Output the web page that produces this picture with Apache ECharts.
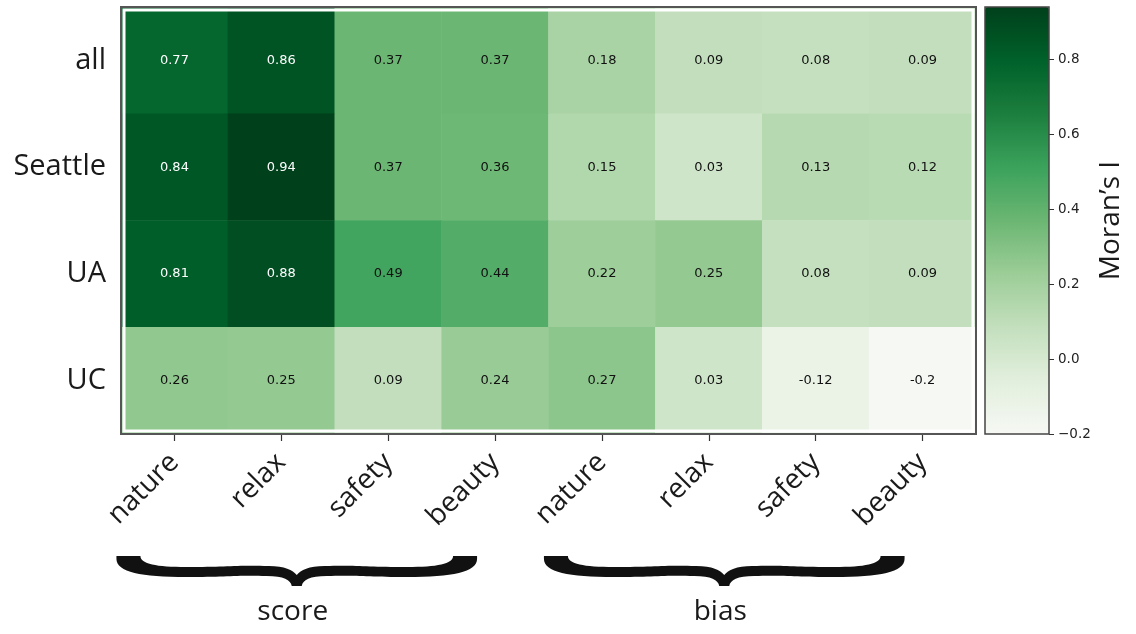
<!DOCTYPE html>
<html>
<head>
<meta charset="utf-8">
<script src="https://cdn.jsdelivr.net/npm/echarts@6/dist/echarts.min.js"></script>
<style>html,body{margin:0;padding:0;background:#fff;}#chart{width:1136px;height:634px;}</style>
</head>
<body>
<div id="chart"></div>
<script>
const columns = ['nature', 'relax', 'safety', 'beauty', 'nature', 'relax', 'safety', 'beauty'];
const rows = ['all', 'Seattle', 'UA', 'UC'];
const allVals     = [0.77, 0.86, 0.37, 0.37, 0.18, 0.09, 0.08, 0.09];
const seattleVals = [0.84, 0.94, 0.37, 0.36, 0.15, 0.03, 0.13, 0.12];
const uaVals      = [0.81, 0.88, 0.49, 0.44, 0.22, 0.25, 0.08, 0.09];
const ucVals      = [0.26, 0.25, 0.09, 0.24, 0.27, 0.03, -0.12, -0.2];
const colorbarTicks = [-0.2, 0.0, 0.2, 0.4, 0.6, 0.8];
const groupLabels = ['score', 'bias'];
const groupStart = [0, 4];
const groupEnd = [3, 7];
const cMin = -0.2, cMax = 0.94;
// Greens colormap as it appears in the reference (slightly muted)
const greens = ['#f6f8f4', '#e2efdd', '#c3dfbd', '#9ccd98', '#6bb672', '#3aa25b', '#1c7e3e', '#00612a', '#00401b'];

const rowVals = [allVals, seattleVals, uaVals, ucVals];
const data = [];
rowVals.forEach((arr, r) => arr.forEach((v, c) => data.push([c, r, v])));
const groups = groupLabels.map((g, i) => [groupStart[i], groupEnd[i], g]);

const chart = echarts.init(document.getElementById('chart'), null, {renderer: 'canvas'});
const font = '"Open Sans", "DejaVu Sans", sans-serif';

function bracePath(x0, x1, y) {
  const c = (x0 + x1) / 2;
  const Y = v => y + v;
  return `M${x0},${Y(0)} L${x0+24},${Y(0)} ` +
    `C${x0+24},${Y(8)} ${x0+40},${Y(11)} ${x0+70},${Y(11)} ` +
    `C${x0+110},${Y(11)} ${c-60},${Y(9)} ${c-28},${Y(10)} ` +
    `C${c-12},${Y(10)} ${c-4},${Y(14)} ${c},${Y(19)} ` +
    `C${c+4},${Y(14)} ${c+12},${Y(10)} ${c+28},${Y(10)} ` +
    `C${c+60},${Y(9)} ${x1-110},${Y(11)} ${x1-70},${Y(11)} ` +
    `C${x1-40},${Y(11)} ${x1-24},${Y(8)} ${x1-24},${Y(0)} L${x1},${Y(0)} L${x1},${Y(3)} ` +
    `C${x1},${Y(16)} ${x1-25},${Y(21)} ${x1-70},${Y(21)} ` +
    `C${x1-110},${Y(21)} ${c+60},${Y(19)} ${c+30},${Y(20)} ` +
    `C${c+13},${Y(20)} ${c+6},${Y(24)} ${c+5},${Y(30)} L${c-5},${Y(30)} ` +
    `C${c-6},${Y(24)} ${c-13},${Y(20)} ${c-30},${Y(20)} ` +
    `C${c-60},${Y(19)} ${x0+110},${Y(21)} ${x0+70},${Y(21)} ` +
    `C${x0+25},${Y(21)} ${x0},${Y(16)} ${x0},${Y(3)} Z`;
}

const option = {
  backgroundColor: '#fff',
  animation: false,
  grid: [
    {left: 121, top: 7, width: 855, height: 427, show: false},
    {left: 985, top: 7, width: 64, height: 427, show: true, borderColor: '#444', borderWidth: 1.5, backgroundColor: 'transparent', z: 10},
    {left: 121, top: 7, width: 855, height: 427, show: true, borderColor: '#555', borderWidth: 2, backgroundColor: 'transparent', z: 10},
    {left: 124, top: 10, width: 849, height: 421, show: true, borderColor: '#fff', borderWidth: 3, backgroundColor: 'transparent', z: 9}
  ],
  xAxis: [
    {type: 'category', gridIndex: 0, data: columns,
     axisLine: {show: false},
     axisTick: {show: true, alignWithLabel: true, length: 7, lineStyle: {color: '#333', width: 1.2}},
     axisLabel: {rotate: 45, fontSize: 28, fontFamily: font, color: '#1a1a1a', margin: 24},
     splitLine: {show: false}},
    {type: 'category', gridIndex: 1, data: ['cb'], show: false},
    {type: 'category', gridIndex: 2, data: ['f'], show: false},
    {type: 'category', gridIndex: 3, data: ['g'], show: false}
  ],
  yAxis: [
    {type: 'category', gridIndex: 0, data: rows, inverse: true,
     axisLine: {show: false}, axisTick: {show: false},
     axisLabel: {fontSize: 29, fontFamily: font, color: '#1a1a1a', margin: 15},
     splitLine: {show: false}},
    {type: 'value', gridIndex: 1, min: cMin, max: cMax, position: 'right',
     axisLine: {show: false},
     axisTick: {show: true, length: 5, lineStyle: {color: '#333'}, customValues: colorbarTicks},
     axisLabel: {fontSize: 13.5, fontFamily: '"DejaVu Sans", sans-serif', color: '#222', margin: 9,
       customValues: colorbarTicks,
       formatter: v => (v < 0 ? '\u2212' : '') + Math.abs(v).toFixed(1)},
     splitLine: {show: false},
     name: 'Moran\u2019s I', nameLocation: 'middle', nameRotate: 90, nameGap: 48,
     nameTextStyle: {fontSize: 28, fontFamily: font, color: '#1a1a1a'}},
    {type: 'category', gridIndex: 2, data: ['f'], show: false},
    {type: 'category', gridIndex: 3, data: ['g'], show: false}
  ],
  visualMap: {
    type: 'continuous', min: cMin, max: cMax, dimension: 2, seriesIndex: 0,
    calculable: false, show: true, orient: 'vertical',
    left: 985, top: 7, itemWidth: 64, itemHeight: 427, padding: 0, text: null,
    inRange: {color: greens}, textStyle: {color: 'transparent'}
  },
  series: [{
    type: 'heatmap', xAxisIndex: 0, yAxisIndex: 0,
    data: data.map(d => ({value: d, label: {color: d[2] > 0.6 ? '#fff' : '#111'}})),
    label: {show: true, fontSize: 13, fontFamily: '"DejaVu Sans", sans-serif',
      formatter: p => String(p.value[2])},
    emphasis: {disabled: true},
    itemStyle: {borderWidth: 0}
  }, {
    type: 'custom', xAxisIndex: 0, yAxisIndex: 0, clip: false, silent: true,
    data: groups,
    encode: {x: [0, 1]},
    renderItem: (params, api) => {
      const a = api.coord([api.value(0), 0])[0];
      const b = api.coord([api.value(1), 0])[0];
      const x0 = a - 58, x1 = b - 18;
      const mid = (x0 + x1) / 2;
      return {
        type: 'group',
        children: [
          {type: 'path', shape: {pathData: bracePath(x0, x1, 556)}, style: {fill: '#111'}},
          {type: 'text', x: mid - 4, y: 612, style: {text: groupLabels[params.dataIndex], fontSize: 28, fontFamily: font, fill: '#1a1a1a', align: 'center', verticalAlign: 'middle'}}
        ]
      };
    }
  }]
};
chart.setOption(option);
</script>
</body>
</html>
